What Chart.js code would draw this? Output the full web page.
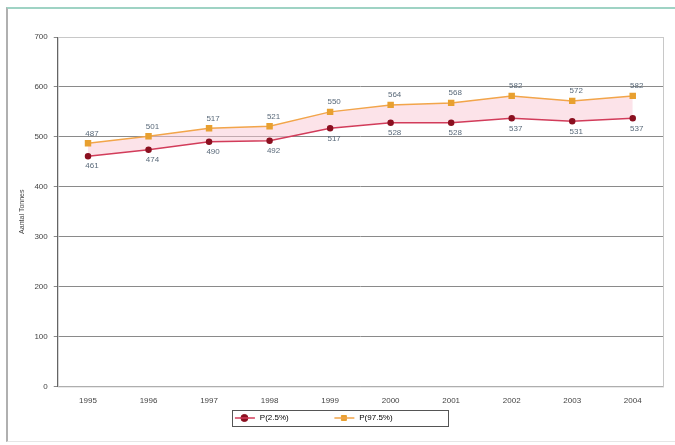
<!DOCTYPE html>
<html>
<head>
<meta charset="utf-8">
<script src="https://cdn.jsdelivr.net/npm/chart.js@4.4.0/dist/chart.umd.min.js"></script>
<style>
  html, body { margin: 0; padding: 0; background: #fff; }
  #frame {
    position: absolute; left: 6px; top: 7px; width: 669px; height: 432px;
    border-top: 2px solid #9fd3c4; border-left: 2px solid #b0b0b0;
    border-bottom: 1px solid #e6e6e6;
  }
  #wrap { position: absolute; left: 0; top: 0; width: 675px; height: 445px; }
</style>
</head>
<body>
<div id="frame"></div>
<div id="wrap"><canvas id="chart" width="675" height="445"></canvas></div>
<script>
const years = ['1995', '1996', '1997', '1998', '1999', '2000', '2001', '2002', '2003', '2004'];
const lowValues = [461, 474, 490, 492, 517, 528, 528, 537, 531, 537];
const highValues = [487, 501, 517, 521, 550, 564, 568, 582, 572, 582];
const yTicks = [0, 100, 200, 300, 400, 500, 600, 700];

// value labels next to each point, below the low series and above the high one
const valueLabels = {
    id: 'valueLabels',
    afterDatasetsDraw(chart) {
        const ctx = chart.ctx;
        ctx.save();
        ctx.font = '8px "Liberation Sans", Arial, sans-serif';
        ctx.fillStyle = '#5a6a7a';
        ctx.textAlign = 'center';
        chart.data.datasets.forEach((ds, i) => {
            const meta = chart.getDatasetMeta(i);
            meta.data.forEach((pt, j) => {
                const above = i === 1;
                ctx.textBaseline = above ? 'bottom' : 'top';
                ctx.fillText(ds.data[j], pt.x + 4, above ? pt.y - 6 : pt.y + 6);
            });
        });
        ctx.restore();
    }
};

// box around the legend and around the plot area
const boxes = {
    id: 'boxes',
    beforeDatasetsDraw(chart) {
        const a = chart.chartArea;
        const ctx = chart.ctx;
        ctx.save();
        ctx.strokeStyle = '#c8c8c8';
        ctx.lineWidth = 1;
        ctx.strokeRect(a.left + 0.5, a.top + 0.5, a.right - a.left, a.bottom - a.top);
        ctx.restore();
    },
    afterDraw(chart) {
        const items = chart.legend.legendHitBoxes;
        if (!items || !items.length) return;
        const ctx = chart.ctx;
        const l = 232, r = 448;
        const mid = items[0].top + items[0].height / 2;
        ctx.save();
        ctx.strokeStyle = '#555';
        ctx.lineWidth = 1;
        ctx.strokeRect(l + 0.5, Math.round(mid - 8) + 0.5, r - l, 16);
        // short line through each legend marker, like the series lines
        chart.legend.legendItems.forEach((it, i) => {
            const hb = items[i];
            const ds = chart.data.datasets[it.datasetIndex];
            ctx.strokeStyle = ds.borderColor;
            ctx.lineWidth = 1.5;
            ctx.beginPath();
            ctx.moveTo(hb.left - 7, mid);
            ctx.lineTo(hb.left + 13, mid);
            ctx.stroke();
        });
        ctx.restore();
    }
};

new Chart(document.getElementById('chart'), {
    type: 'line',
    data: {
        labels: years,
        datasets: [
            {
                label: 'P(2.5%)',
                data: lowValues,
                borderColor: '#d23c5a',
                backgroundColor: '#8b1020',
                pointBackgroundColor: '#8b1020',
                pointBorderColor: '#8b1020',
                pointStyle: 'circle',
                pointRadius: 2.5,
                borderWidth: 1.5,
                fill: false
            },
            {
                label: 'P(97.5%)',
                data: highValues,
                borderColor: '#f2a54a',
                backgroundColor: 'rgba(250, 200, 212, 0.5)',
                pointBackgroundColor: '#e8a030',
                pointBorderColor: '#e8a030',
                pointStyle: 'rect',
                pointRadius: 3.5,
                borderWidth: 1.5,
                fill: '-1'
            }
        ]
    },
    options: {
        responsive: false,
        animation: false,
        layout: { padding: { left: 16, right: 12, top: 37, bottom: 13 } },
        plugins: {
            legend: {
                position: 'bottom',
                labels: {
                    usePointStyle: true,
                    boxWidth: 5,
                    boxHeight: 5,
                    padding: 6,
                    font: { size: 8, family: '"Liberation Sans", Arial, sans-serif' },
                    color: '#444',
                    generateLabels(chart) {
                        return chart.data.datasets.map((ds, i) => ({
                            text: '    ' + ds.label + (i === 0 ? '                     ' : '                    '),
                            fillStyle: ds.pointBackgroundColor,
                            strokeStyle: ds.pointBorderColor,
                            pointStyle: ds.pointStyle,
                            lineWidth: 1,
                            datasetIndex: i
                        }));
                    }
                }
            },
            tooltip: { enabled: false }
        },
        scales: {
            x: {
                offset: true,
                grid: { display: false },
                border: { color: '#888' },
                ticks: { font: { size: 8, family: '"Liberation Sans", Arial, sans-serif' }, color: '#444', padding: 2, maxRotation: 0 }
            },
            y: {
                min: 0,
                max: 700,
                afterBuildTicks(axis) { axis.ticks = yTicks.map(v => ({ value: v })); },
                grid: { color: '#8a8a8a', lineWidth: 1, drawTicks: true, tickLength: 4 },
                border: { color: '#444' },
                ticks: { font: { size: 8, family: '"Liberation Sans", Arial, sans-serif' }, color: '#444', padding: 6 },
                title: {
                    display: true,
                    text: 'Aantal Tonnes',
                    font: { size: 7, family: '"Liberation Sans", Arial, sans-serif' },
                    color: '#444',
                    padding: 2
                }
            }
        }
    },
    plugins: [valueLabels, boxes]
});
</script>
</body>
</html>
